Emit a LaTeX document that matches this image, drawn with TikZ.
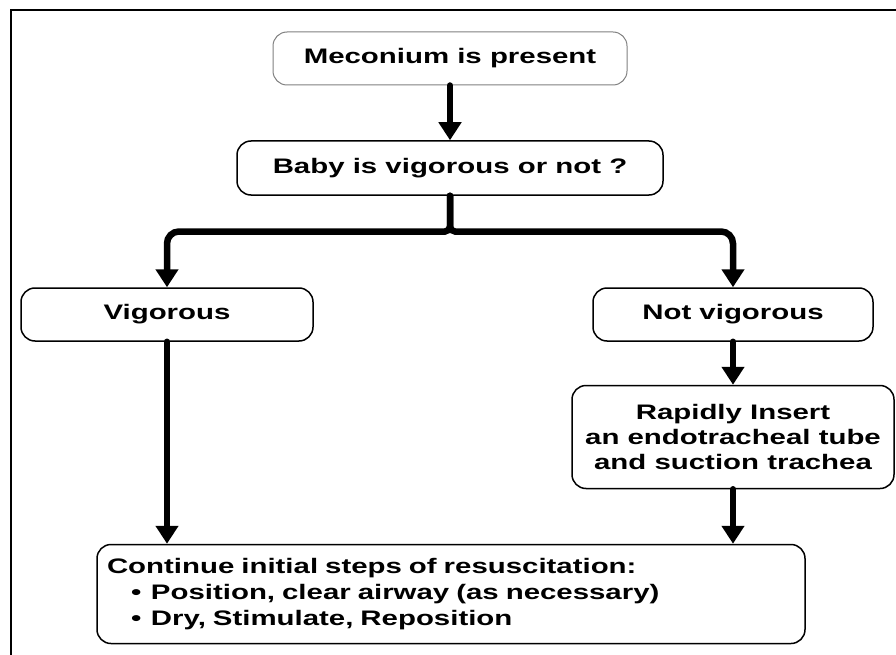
\documentclass[tikz,border=0pt]{standalone}
\usepackage{fontspec}
\setmainfont{Liberation Sans}[FakeStretch=1.4]
\usetikzlibrary{arrows.meta}

\begin{document}
\begin{tikzpicture}[x=1pt, y=-1pt,
    casella/.style={draw, line width=1.5pt, rounded corners=14pt, inner sep=0pt,
      font=\fontsize{21}{25}\selectfont\bfseries, align=center},
    freccia/.style={line width=6.5pt, line cap=round, -{Triangle[width=22pt,length=18pt]}}]
\useasboundingbox (0,0) rectangle (896,655);

% Cornice
\draw[line width=2pt] (10.5,655) -- (10.5,10.5) -- (896,10.5);

% Caselle
\node[casella, draw=gray, line width=1pt, minimum width=354pt, minimum height=53pt] (meconio) at (450,58.5) {Meconium is present};
\node[casella, minimum width=426pt, minimum height=54pt] (bambino) at (450,168) {Baby is vigorous or not ?};
\node[casella, minimum width=292pt, minimum height=53pt] (vigoroso) at (167,314.5) {Vigorous};
\node[casella, minimum width=280pt, minimum height=53pt] (nonvig) at (733,314.5) {Not vigorous};
\node[casella, minimum width=322pt, minimum height=103pt] (intuba) at (733,437)
  {Rapidly Insert\\an endotracheal tube\\and suction trachea};
\node[casella, text width=688pt, inner xsep=10pt, minimum height=99pt, align=left,
  font=\fontsize{21}{26}\selectfont\bfseries] (continua) at (451,594)
  {Continue initial steps of resuscitation:\\
   \hspace*{24pt}\makebox[20pt][l]{\textbullet}Position, clear airway (as necessary)\\
   \hspace*{24pt}\makebox[20pt][l]{\textbullet}Dry, Stimulate, Reposition};

% Frecce
\coordinate (bivio) at (450,231.5);
\draw[freccia] (meconio.south) -- (bambino.north);
\draw[freccia] (bambino.south) [rounded corners=5pt] -- (bivio) [rounded corners=12pt] -| (vigoroso.north);
\draw[freccia] (bambino.south) [rounded corners=5pt] -- (bivio) [rounded corners=12pt] -| (nonvig.north);
\draw[freccia] (vigoroso.south) -- (vigoroso.south |- continua.north);
\draw[freccia] (nonvig.south) -- (intuba.north);
\draw[freccia] (intuba.south) -- (intuba.south |- continua.north);

\end{tikzpicture}
\end{document}
